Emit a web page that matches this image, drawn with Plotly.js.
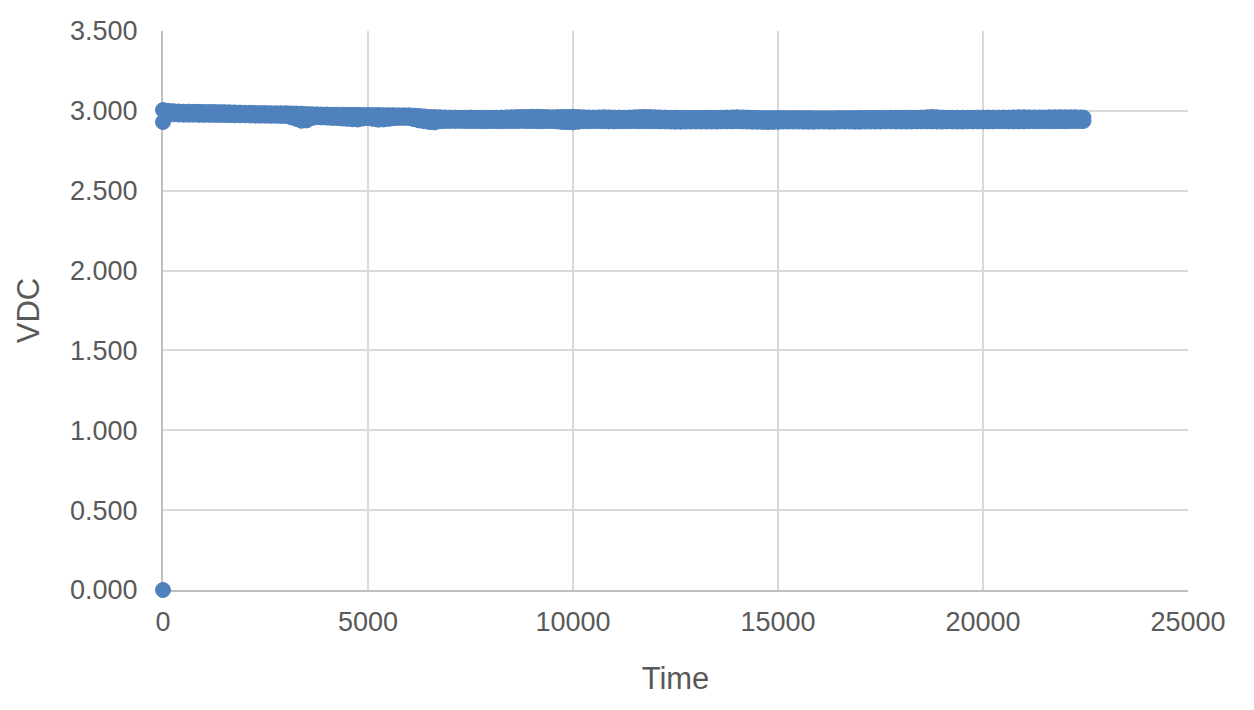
<!DOCTYPE html>
<html>
<head>
<meta charset="utf-8">
<script src="https://cdn.plot.ly/plotly-3.0.1.min.js"></script>
<style>html,body{margin:0;padding:0;background:#fff;}#chart{width:1254px;height:710px;}</style>
</head>
<body>
<div id="chart"></div>
<script>
const time = [0,250,500,750,1000,1250,1500,1750,2000,2250,2500,2750,3000,3250,3500,3750,4000,4250,4500,4750,
  5000,5250,5500,5750,6000,6250,6500,6750,7000,7250,7500,7750,8000,8250,8500,8750,9000,9250,9500,9750,
  10000,10250,10500,10750,11000,11250,11500,11750,12000,12250,12500,12750,13000,13250,13500,13750,14000,14250,14500,14750,
  15000,15250,15500,15750,16000,16250,16500,16750,17000,17250,17500,17750,18000,18250,18500,18750,19000,19250,19500,19750,
  20000,20250,20500,20750,21000,21250,21500,21750,22000,22250,22450];
const vdcHigh = [3.005,2.998,2.995,2.994,2.993,2.993,2.992,2.990,2.988,2.987,2.986,2.985,2.985,2.983,2.980,2.978,2.977,2.976,2.975,2.975,
  2.974,2.974,2.973,2.972,2.972,2.968,2.962,2.960,2.958,2.957,2.958,2.957,2.957,2.958,2.960,2.962,2.963,2.962,2.960,2.962,
  2.963,2.960,2.958,2.960,2.958,2.957,2.960,2.962,2.960,2.958,2.957,2.956,2.956,2.957,2.956,2.958,2.960,2.958,2.956,2.955,
  2.955,2.955,2.955,2.955,2.954,2.954,2.955,2.955,2.956,2.956,2.956,2.957,2.957,2.957,2.958,2.962,2.958,2.957,2.957,2.957,
  2.958,2.958,2.958,2.959,2.960,2.959,2.959,2.960,2.960,2.960,2.958];
const vdcLow = [2.930,2.978,2.976,2.976,2.975,2.975,2.974,2.972,2.972,2.970,2.970,2.969,2.968,2.950,2.940,2.960,2.958,2.955,2.950,2.946,
  2.955,2.945,2.950,2.956,2.955,2.940,2.930,2.935,2.937,2.937,2.936,2.936,2.936,2.935,2.936,2.937,2.936,2.935,2.936,2.930,
  2.928,2.935,2.936,2.935,2.934,2.935,2.936,2.935,2.935,2.934,2.932,2.933,2.934,2.933,2.933,2.934,2.935,2.933,2.932,2.930,
  2.932,2.933,2.933,2.932,2.933,2.932,2.933,2.933,2.932,2.933,2.933,2.934,2.933,2.933,2.934,2.934,2.933,2.934,2.933,2.934,
  2.934,2.934,2.935,2.934,2.934,2.935,2.935,2.935,2.935,2.936,2.937];
const timeMid = [125,375,625,875,1125,1375,1625,1875,2125,2375,2625,2875,3125,3375,3625,3875,4125,4375,4625,4875,
  5125,5375,5625,5875,6125,6375,6625,6875,7125,7375,7625,7875,8125,8375,8625,8875,9125,9375,9625,9875,
  10125,10375,10625,10875,11125,11375,11625,11875,12125,12375,12625,12875,13125,13375,13625,13875,14125,14375,14625,14875,
  15125,15375,15625,15875,16125,16375,16625,16875,17125,17375,17625,17875,18125,18375,18625,18875,19125,19375,19625,19875,
  20125,20375,20625,20875,21125,21375,21625,21875,22125,22375];
const vdcHighMid = [3.000,2.996,2.995,2.994,2.993,2.992,2.991,2.989,2.988,2.986,2.985,2.985,2.984,2.982,2.979,2.977,2.976,2.976,2.975,2.974,
  2.974,2.973,2.973,2.972,2.970,2.965,2.961,2.959,2.958,2.957,2.957,2.957,2.957,2.959,2.961,2.962,2.963,2.961,2.961,2.962,
  2.961,2.959,2.959,2.959,2.958,2.958,2.961,2.961,2.959,2.957,2.956,2.956,2.956,2.956,2.957,2.959,2.959,2.957,2.955,2.955,
  2.955,2.955,2.955,2.954,2.954,2.954,2.955,2.955,2.956,2.956,2.956,2.957,2.957,2.957,2.960,2.960,2.957,2.957,2.957,2.958,
  2.958,2.958,2.958,2.960,2.959,2.959,2.960,2.960,2.960,2.959];
const vdcLowMid = [2.978,2.977,2.976,2.975,2.975,2.974,2.973,2.972,2.971,2.970,2.969,2.968,2.960,2.938,2.955,2.959,2.956,2.952,2.948,2.952,
  2.950,2.946,2.954,2.956,2.948,2.935,2.928,2.936,2.937,2.936,2.936,2.935,2.936,2.936,2.936,2.936,2.935,2.936,2.933,2.929,
  2.932,2.935,2.936,2.934,2.935,2.935,2.935,2.935,2.934,2.933,2.932,2.933,2.933,2.933,2.934,2.934,2.934,2.932,2.931,2.931,
  2.933,2.933,2.932,2.932,2.933,2.932,2.933,2.932,2.933,2.933,2.934,2.933,2.933,2.934,2.934,2.933,2.934,2.933,2.934,2.934,
  2.934,2.935,2.934,2.934,2.935,2.935,2.935,2.935,2.936,2.936];
const startTime = [0];
const startVdc = [0];

const xs = startTime.concat(time, timeMid, time, timeMid);
const ys = startVdc.concat(vdcHigh, vdcHighMid, vdcLow, vdcLowMid);

const fontFam = 'Liberation Sans, Arial, sans-serif';
const trace = {
  x: xs, y: ys, type: 'scatter', mode: 'markers', cliponaxis: false,
  marker: {color: '#4F81BD', size: 15, line: {color: '#4F81BD', width: 1}},
  hoverinfo: 'x+y'
};
const layout = {
  width: 1254, height: 710,
  margin: {l: 163, r: 66, t: 31, b: 120},
  paper_bgcolor: '#ffffff', plot_bgcolor: '#ffffff',
  showlegend: false,
  font: {family: fontFam, color: '#595959', size: 27},
  xaxis: {
    range: [0, 25000], tickvals: [0,5000,10000,15000,20000,25000],
    ticktext: ['0','5000','10000','15000','20000','25000'],
    showgrid: true, gridcolor: '#d9d9d9', gridwidth: 2,
    zeroline: false, showline: true, linecolor: '#bfbfbf', linewidth: 2,
    layer: 'below traces',
    ticks: 'outside', ticklen: 7, tickcolor: 'rgba(0,0,0,0)',
    tickfont: {size: 27, color: '#595959', family: fontFam},
    title: {text: 'Time', font: {size: 31, color: '#595959', family: fontFam}, standoff: 31}
  },
  yaxis: {
    range: [0, 3.5], dtick: 0.5, tickformat: '.3f',
    showgrid: true, gridcolor: '#d9d9d9', gridwidth: 2,
    zeroline: false, showline: true, linecolor: '#bfbfbf', linewidth: 2,
    layer: 'below traces',
    ticks: 'outside', ticklen: 18, tickcolor: 'rgba(0,0,0,0)',
    tickfont: {size: 27, color: '#595959', family: fontFam},
    title: {text: 'VDC', font: {size: 31, color: '#595959', family: fontFam}, standoff: 21}
  }
};
Plotly.newPlot('chart', [trace], layout, {displayModeBar: false, staticPlot: true});
</script>
</body>
</html>
